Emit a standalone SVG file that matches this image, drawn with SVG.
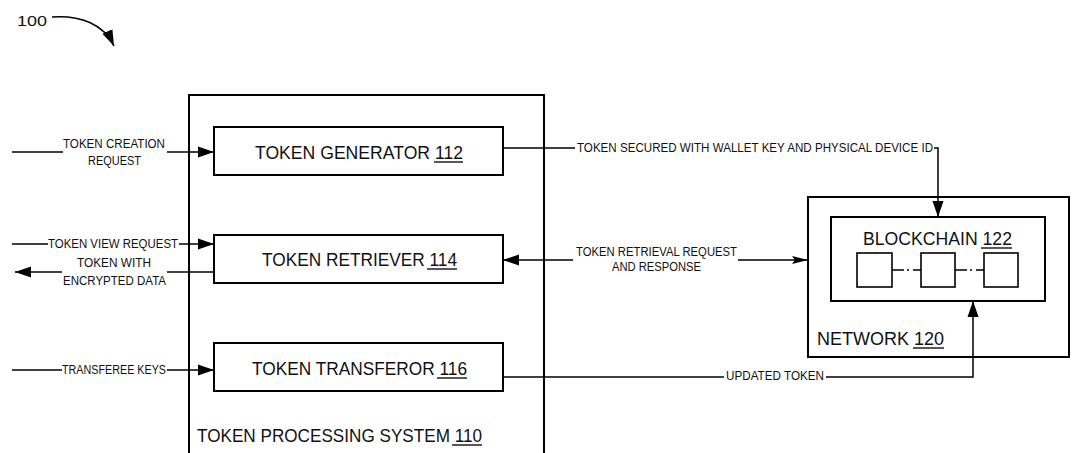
<svg xmlns="http://www.w3.org/2000/svg" width="1088" height="453" viewBox="0 0 1088 453">
<style>
.box{fill:#fff;stroke:#000;stroke-width:2}
.sq{fill:#fff;stroke:#000;stroke-width:1.6}
.ln{fill:none;stroke:#000;stroke-width:1.5}
.ul{fill:none;stroke:#111;stroke-width:1.4}
.big{font-family:"Liberation Sans",Arial,sans-serif;font-size:19px;fill:#111}
.sm{font-family:"Liberation Sans",Arial,sans-serif;font-size:12px;fill:#111}
.lab{font-family:"Liberation Sans",Arial,sans-serif;font-size:15px;fill:#111}
</style>
<defs>
<marker id="arr" markerUnits="userSpaceOnUse" markerWidth="16" markerHeight="12" refX="16" refY="6" orient="auto"><path d="M0,0.5 L16,6 L0,11.5 z" fill="#000"/></marker>
<marker id="arr2" markerUnits="userSpaceOnUse" markerWidth="16" markerHeight="10" refX="16" refY="5" orient="auto"><path d="M0,1 L16,5 L0,9 L3,5 z" fill="#000"/></marker>
</defs>
<rect width="1088" height="453" fill="#fff"/>

<g id="ref100">
<text class="lab" x="17" y="25.5" textLength="30" lengthAdjust="spacingAndGlyphs">100</text>
<path class="ln" d="M52,17 C80,15 104,24 114,46" marker-end="url(#arr)"/>
</g>

<g id="tps110">
<path class="box" d="M189,460 V95 H544 V460" style="fill:none"/>
<text class="big" x="197" y="442" textLength="285" lengthAdjust="spacingAndGlyphs">TOKEN PROCESSING SYSTEM 110</text>
<path class="ul" d="M452,445 H482"/>
</g>

<g id="gen112">
<rect class="box" x="214" y="127" width="289" height="48"/>
<text class="big" x="255" y="159" textLength="208" lengthAdjust="spacingAndGlyphs">TOKEN GENERATOR 112</text>
<path class="ul" d="M434,162 H463"/>
</g>

<g id="ret114">
<rect class="box" x="214" y="235" width="289" height="48"/>
<text class="big" x="262" y="266" textLength="195" lengthAdjust="spacingAndGlyphs">TOKEN RETRIEVER 114</text>
<path class="ul" d="M427,269 H457"/>
</g>

<g id="tra116">
<rect class="box" x="214" y="343" width="289" height="48"/>
<text class="big" x="252" y="375" textLength="215" lengthAdjust="spacingAndGlyphs">TOKEN TRANSFEROR 116</text>
<path class="ul" d="M437,378 H467"/>
</g>

<g id="net120">
<rect class="box" x="808" y="197" width="261" height="160"/>
<text class="big" x="817" y="345" textLength="127" lengthAdjust="spacingAndGlyphs">NETWORK 120</text>
<path class="ul" d="M913,348 H944"/>
</g>

<g id="bc122">
<rect class="box" x="831" y="217" width="214" height="84"/>
<text class="big" x="863" y="245" textLength="149" lengthAdjust="spacingAndGlyphs">BLOCKCHAIN 122</text>
<path class="ul" d="M981,248 H1012"/>
<rect class="sq" x="857" y="253" width="35" height="34"/>
<rect class="sq" x="921" y="253" width="34" height="34"/>
<rect class="sq" x="984" y="253" width="34" height="34"/>
<path class="ln" d="M892,270 H904 M907,270 H909 M913,270 H921 M955,270 H967 M970,270 H972 M976,270 H984"/>
</g>

<g id="connectors">
<path class="ln" d="M12,152 H63"/>
<path class="ln" d="M167,152 H214" marker-end="url(#arr)"/>
<text class="sm" x="63" y="147.5" textLength="102" lengthAdjust="spacingAndGlyphs">TOKEN CREATION</text>
<text class="sm" x="88" y="164.5" textLength="53" lengthAdjust="spacingAndGlyphs">REQUEST</text>

<path class="ln" d="M12,244 H48"/>
<path class="ln" d="M179,244 H214" marker-end="url(#arr)"/>
<text class="sm" x="48" y="248.3" textLength="130" lengthAdjust="spacingAndGlyphs">TOKEN VIEW REQUEST</text>

<path class="ln" d="M214,272 H167"/>
<path class="ln" d="M62,272 H15" marker-end="url(#arr)"/>
<text class="sm" x="77" y="267.3" textLength="74" lengthAdjust="spacingAndGlyphs">TOKEN WITH</text>
<text class="sm" x="63" y="285.3" textLength="103" lengthAdjust="spacingAndGlyphs">ENCRYPTED DATA</text>

<path class="ln" d="M12,370 H62"/>
<path class="ln" d="M167,370 H214" marker-end="url(#arr)"/>
<text class="sm" x="62" y="374.3" textLength="104" lengthAdjust="spacingAndGlyphs">TRANSFEREE KEYS</text>

<path class="ln" d="M503,148 H575"/>
<path class="ln" d="M934,148 H938 V217" marker-end="url(#arr)"/>
<text class="sm" x="577" y="152.3" textLength="356" lengthAdjust="spacingAndGlyphs">TOKEN SECURED WITH WALLET KEY AND PHYSICAL DEVICE ID</text>

<path class="ln" d="M573,260 H503" marker-end="url(#arr)"/>
<path class="ln" d="M738,260 H808" marker-end="url(#arr2)"/>
<text class="sm" x="576" y="256.3" textLength="161" lengthAdjust="spacingAndGlyphs">TOKEN RETRIEVAL REQUEST</text>
<text class="sm" x="612" y="271.3" textLength="89" lengthAdjust="spacingAndGlyphs">AND RESPONSE</text>

<path class="ln" d="M503,377 H724"/>
<path class="ln" d="M826,377 H973 V301" marker-end="url(#arr)"/>
<text class="sm" x="726" y="380.3" textLength="98" lengthAdjust="spacingAndGlyphs">UPDATED TOKEN</text>
</g>
</svg>
